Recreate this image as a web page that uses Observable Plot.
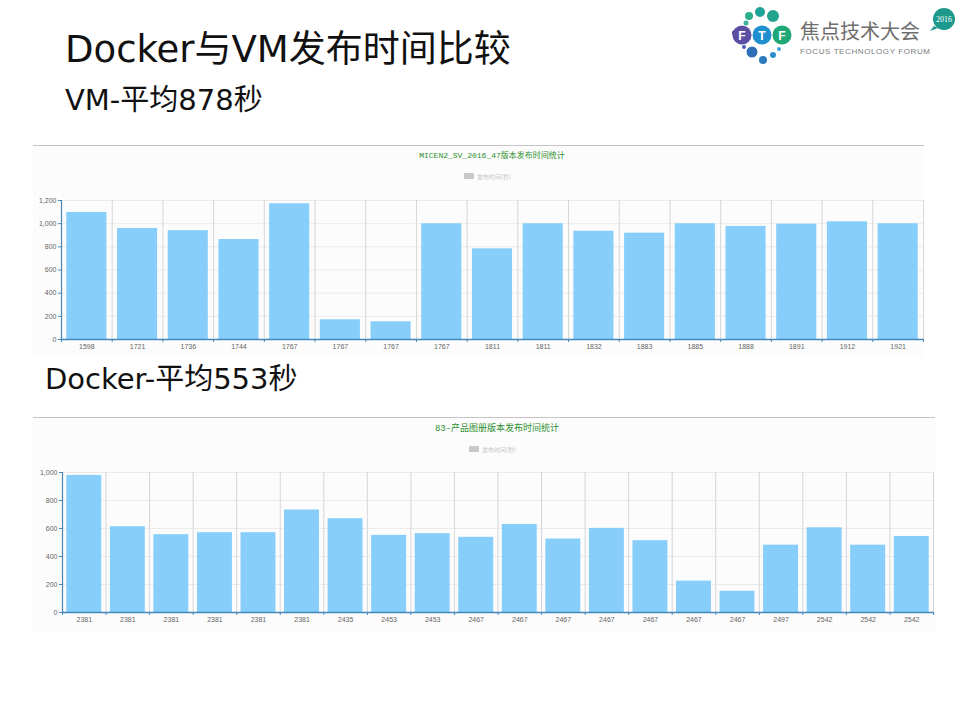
<!DOCTYPE html>
<html><head><meta charset="utf-8">
<script src="https://cdn.jsdelivr.net/npm/d3@7"></script>
<script src="https://cdn.jsdelivr.net/npm/@observablehq/plot@0.6"></script>
<style>
body{margin:0;width:960px;height:720px;background:#fff;position:relative;overflow:hidden;font-family:"DejaVu Sans","Noto Sans CJK SC",sans-serif}
.abs{position:absolute}
.panel{position:absolute;background:#fcfcfc;border-top:1.5px solid #c4c4c4}
</style></head><body>
<div class="panel" style="left:33px;top:145px;width:891px;height:210px"></div>
<div class="panel" style="left:33px;top:417px;width:902px;height:213px"></div>
<svg id="deco" class="abs" style="left:0;top:0" width="960" height="720"></svg>
<div id="c1" class="abs" style="left:33px;top:190px"></div>
<div id="c2" class="abs" style="left:33px;top:462px"></div>
<script>
// ---- data ----
const pageTitle = "Docker与VM发布时间比较";
const vmHeading = "VM-平均878秒";
const dockerHeading = "Docker-平均553秒";
const vmChartTitle = "MICEN2_SV_2016_47版本发布时间统计";
const dockerChartTitle = "83-产品图册版本发布时间统计";
const legendLabel = "发布时间(秒)";

const vmLabels = ["1598","1721","1736","1744","1767","1767","1767","1767","1811","1811","1832","1883","1885","1888","1891","1912","1921"];
const vmValues = [1097,958,940,863,1172,170,153,999,783,999,935,918,999,976,996,1016,999];
const vmYTicks = [0,200,400,600,800,1000,1200];

const dockerLabels = ["2381","2381","2381","2381","2381","2381","2435","2453","2453","2467","2467","2467","2467","2467","2467","2467","2497","2542","2542","2542"];
const dockerValues = [979,613,556,570,570,732,670,551,563,537,629,525,601,513,224,152,481,605,481,543];
const dockerYTicks = [0,200,400,600,800,1000];

// ---- decorative slide text + logo ----
const deco = d3.select("#deco");
deco.append("text").attr("x",65).attr("y",62).attr("font-size",37).attr("fill","#111").text(pageTitle);
deco.append("text").attr("x",65).attr("y",110).attr("font-size",29).attr("fill","#111").text(vmHeading);
deco.append("text").attr("x",45).attr("y",389).attr("font-size",29).attr("fill","#111").text(dockerHeading);

function chartHeader(cx, ty, title, fontSize, fontFamily, ly) {
  deco.append("text").attr("x",cx).attr("y",ty).attr("text-anchor","middle")
    .attr("font-size",fontSize).attr("font-family",fontFamily).attr("fill","#2d8f2d").text(title);
  deco.append("rect").attr("x",cx-28).attr("y",ly-3).attr("width",10).attr("height",6).attr("rx",1).attr("fill","#c8c8c8");
  deco.append("text").attr("x",cx-15).attr("y",ly+2.5).attr("font-size",6).attr("fill","#c8c8c8")
    .attr("font-family","'Noto Sans CJK SC'").text(legendLabel);
}
chartHeader(492, 158, vmChartTitle, 8, "'Liberation Mono','Noto Sans CJK SC'", 176);
chartHeader(497, 431, dockerChartTitle, 9, "'Liberation Mono','Noto Sans CJK SC'", 449);

// logo
const logo = deco.append("g");
[[735,33,3,"#4b3f8f"],[749,16,4,"#2bb08a"],[760,12,5,"#1ea39a"],[773,16,6,"#22a38c"],[746,23,2.5,"#3bb39a"],
 [752,52,5.5,"#2f6fb7"],[763,60,4,"#2d7cc0"],[773,55,3,"#2f8fcf"],[779,49,2,"#3aa0d5"],[744,47,2,"#4a5ab0"]]
 .forEach(([x,y,r,c])=>logo.append("circle").attr("cx",x).attr("cy",y).attr("r",r).attr("fill",c));
[[742,"F","#5b4ea3"],[762,"T","#1f8fd0"],[782,"F","#1fa775"]].forEach(([x,t,c])=>{
  logo.append("circle").attr("cx",x).attr("cy",35).attr("r",9.5).attr("fill",c);
  logo.append("text").attr("x",x).attr("y",39.5).attr("text-anchor","middle").attr("font-size",12)
    .attr("font-weight","bold").attr("font-family","'Liberation Sans'").attr("fill","#fff").text(t);
});
logo.append("text").attr("x",800).attr("y",39).attr("font-size",20).attr("fill","#6e6e6e")
  .attr("font-family","'Noto Sans CJK SC'").text("焦点技术大会");
logo.append("text").attr("x",800).attr("y",54).attr("font-size",8).attr("fill","#7a7a7a")
  .attr("font-family","'Liberation Sans'").attr("textLength",130).text("FOCUS TECHNOLOGY FORUM");
logo.append("path").attr("d","M934,26 L930,31 L938,28 Z").attr("fill","#1e9a8c");
logo.append("circle").attr("cx",944).attr("cy",19).attr("r",11).attr("fill","#1e9a8c");
logo.append("text").attr("x",944).attr("y",22).attr("text-anchor","middle").attr("font-size",8)
  .attr("font-family","'Liberation Serif'").attr("fill","#fff").text("2016");

// ---- charts ----
function barChart(labels, values, yTicks, width, height, ml, mr, mb, inset) {
  const data = labels.map((label, i) => ({i, label, value: values[i]}));
  const n = labels.length;
  const bounds = d3.range(n + 1);
  const centers = d3.range(n).map(i => i + 0.5);
  const axisColor = "#4488bb";
  return Plot.plot({
    width, height,
    marginLeft: ml, marginRight: mr, marginTop: 10, marginBottom: mb,
    x: {domain: [0, n], axis: null},
    y: {domain: [0, yTicks[yTicks.length - 1]], axis: null},
    style: {background: "transparent", fontFamily: "'Liberation Sans', Arial, sans-serif", fontSize: "7px", color: "#666"},
    marks: [
      Plot.ruleY(yTicks, {stroke: "#ebebeb"}),
      Plot.ruleX(bounds, {stroke: "#d6d6d6"}),
      Plot.rectY(data, {x1: "i", x2: d => d.i + 1, y: "value", fill: "#87cefa", insetLeft: inset, insetRight: inset}),
      Plot.ruleX([0], {stroke: axisColor, strokeWidth: 1.2}),
      Plot.ruleY([0], {stroke: axisColor, strokeWidth: 1.5}),
      Plot.axisX({ticks: bounds, tickSize: 3, label: null, stroke: axisColor, strokeOpacity: 1, tickFormat: () => ""}),
      Plot.axisX({ticks: centers, tickSize: 0, tickPadding: 5, label: null, fill: "#666", tickFormat: d => labels[Math.floor(d)]}),
      Plot.axisY({ticks: yTicks, tickSize: 3, tickPadding: 2, label: null, stroke: axisColor, strokeOpacity: 1, fill: "#666", tickFormat: d3.format(",")})
    ]
  });
}

document.getElementById("c1").append(barChart(vmLabels, vmValues, vmYTicks, 891, 165, 28, 1, 16, 5.3));
document.getElementById("c2").append(barChart(dockerLabels, dockerValues, dockerYTicks, 902, 168, 29, 2, 18, 4.3));
</script>
</body></html>
